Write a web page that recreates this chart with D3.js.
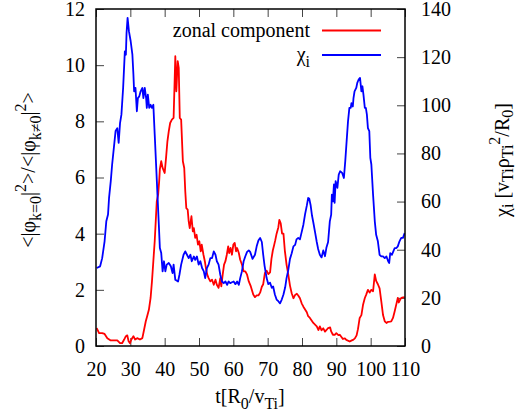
<!DOCTYPE html>
<html>
<head>
<meta charset="utf-8">
<script src="https://cdn.jsdelivr.net/npm/d3@7"></script>
<style>
  html, body { margin: 0; padding: 0; background: #fff; }
  svg { display: block; }
</style>
</head>
<body>
<svg id="chart" width="520" height="417"></svg>
<script>
// time axis ticks and axis ranges
const xTicks = [20, 30, 40, 50, 60, 70, 80, 90, 100, 110];
const yLeftTicks = [0, 2, 4, 6, 8, 10, 12];
const yRightTicks = [0, 20, 40, 60, 80, 100, 120, 140];

// zonal component ratio <|phi_k=0|^2>/<|phi_k!=0|^2> (left axis)
const tZonal = [20.2,20.9,21.8,22.5,23.3,24.3,25.2,26.2,27.0,27.6,28.2,28.7,29.1,29.5,29.9,30.3,30.9,31.4,32.0,32.8,33.5,34.0,34.5,34.9,35.4,35.9,36.3,36.7,37.1,37.4,37.7,38.1,38.4,38.6,39.0,39.4,40.0,40.4,40.8,41.2,41.6,42.1,42.6,43.1,43.4,43.8,44.1,44.4,44.8,45.3,45.7,46.0,46.3,46.7,47.0,47.3,47.8,48.2,48.5,48.9,49.3,49.7,50.1,50.5,50.8,51.3,51.7,52.0,52.4,52.8,53.3,53.8,54.3,54.8,55.2,55.7,56.2,56.5,56.9,57.3,57.7,58.1,58.5,58.8,59.2,59.6,60.0,60.4,60.8,61.1,61.6,62.0,62.5,63.0,63.5,64.0,64.5,65.1,65.8,66.3,66.8,67.3,67.8,68.3,68.7,69.2,69.7,70.2,70.7,71.1,71.5,71.9,72.2,72.6,73.1,73.4,73.8,74.2,74.6,75.0,75.5,76.0,76.5,77.0,77.5,78.0,78.5,78.9,79.4,79.9,80.4,81.4,81.8,82.3,83.3,84.3,84.8,85.2,85.7,86.2,86.7,87.2,87.6,88.2,88.5,89.0,89.6,90.0,90.6,91.0,91.6,91.9,92.5,92.9,93.9,94.5,94.9,95.4,95.9,96.3,96.8,97.3,97.8,98.3,98.7,99.2,99.7,100.2,100.7,101.2,101.6,102.1,102.6,103.1,103.6,104.1,104.6,105.1,105.6,106.0,106.5,107.0,107.5,107.9,108.2,108.7,109.1,109.9];
const zonal = [0.64,0.46,0.46,0.43,0.28,0.20,0.20,0.20,0.10,0.10,0.23,0.35,0.38,0.17,0.10,0.23,0.35,0.23,0.28,0.23,0.28,0.58,0.88,1.06,1.29,1.71,2.30,3.02,3.73,4.44,5.15,5.39,5.87,6.30,6.58,6.34,6.16,6.70,7.29,7.65,7.94,8.06,8.12,10.32,9.07,10.14,9.90,8.12,8.06,6.58,6.34,5.51,4.91,4.86,4.44,4.20,4.62,4.08,4.20,3.85,3.96,3.61,3.73,3.37,3.61,3.25,3.02,2.78,2.54,2.42,2.30,2.36,2.18,2.36,2.18,2.07,2.42,2.12,2.54,2.90,3.02,3.25,3.55,3.31,3.49,3.25,3.61,3.67,3.37,3.49,3.31,3.07,2.90,2.66,2.66,2.54,2.30,2.12,1.83,1.74,1.80,1.80,1.90,2.11,2.20,2.60,2.68,2.56,2.62,3.10,3.40,3.60,3.76,4.00,4.22,4.49,4.37,4.00,4.00,3.40,2.90,2.55,2.15,1.88,1.70,1.82,1.86,1.80,1.70,1.52,1.40,1.20,1.06,1.00,0.82,0.70,0.57,0.70,0.56,0.63,0.51,0.58,0.64,0.66,0.52,0.40,0.40,0.46,0.39,0.40,0.30,0.25,0.27,0.22,0.16,0.20,0.22,0.27,0.38,0.60,1.00,1.10,1.48,1.71,1.83,2.00,1.90,2.00,1.95,2.55,2.32,2.20,2.05,1.59,1.10,0.88,0.82,0.86,0.87,0.88,1.00,1.24,1.50,1.71,1.55,1.68,1.72,1.74];

// ion heat diffusivity chi_i in v_Ti rho_Ti^2 / R_0 (right axis)
const tChi = [20.2,21.2,21.8,22.5,23.0,23.5,23.8,24.3,24.7,25.2,25.7,26.2,26.6,27.0,27.4,27.9,28.4,28.7,28.9,29.2,29.6,30.1,30.6,30.9,31.1,31.5,31.9,32.2,32.6,33.0,33.5,33.8,34.2,34.6,34.8,35.1,35.5,35.9,36.3,36.7,37.1,37.5,37.9,38.3,38.6,39.0,39.4,39.8,40.2,40.6,41.2,41.8,42.3,42.6,43.1,43.9,44.3,44.8,45.5,46.0,46.5,47.0,47.5,47.9,48.5,48.9,49.4,49.9,50.4,50.9,51.4,51.8,52.3,52.8,53.3,53.8,54.3,54.8,55.2,55.7,56.2,56.7,57.2,57.7,58.2,58.6,59.1,59.6,60.1,60.6,61.1,61.6,62.0,62.5,63.0,63.5,64.0,64.5,64.9,65.6,66.3,66.8,67.3,67.8,68.3,68.7,69.1,69.7,70.2,70.7,71.2,71.6,72.1,72.6,73.1,73.6,74.1,74.6,75.1,75.5,76.0,76.5,77.0,77.5,78.0,78.4,78.9,79.4,79.9,80.4,80.9,81.4,81.8,82.1,82.5,82.9,83.3,83.8,84.3,84.7,85.2,85.7,86.2,86.7,87.1,87.6,88.1,88.5,88.7,89.0,89.3,89.5,89.8,90.3,90.7,91.1,91.7,92.2,92.6,93.0,93.4,93.8,94.2,94.4,94.8,95.0,95.3,95.8,96.1,96.5,96.9,97.3,97.6,97.9,98.3,98.6,98.9,99.2,99.6,99.9,100.2,100.7,101.2,101.6,102.1,102.6,103.1,103.6,104.1,104.6,105.1,105.4,105.7,106.2,106.6,107.0,107.5,107.9,108.4,108.9,109.4,109.9];
const chi = [32.4,33.1,36.5,43.5,51.8,54.6,61.5,68.5,75.4,82.3,89.3,90.5,84.4,92.6,96.1,107.2,122.4,121.0,130.1,136.3,130.7,126.6,121.0,112.7,105.8,107.2,97.5,103.0,103.7,105.8,107.2,103.0,107.2,103.0,98.9,104.4,98.9,100.2,98.9,100.2,87.9,75.4,62.9,50.4,40.7,38.6,31.0,35.2,31.0,33.8,34.5,33.1,30.3,33.8,27.5,26.8,29.6,33.8,37.9,39.3,37.9,36.5,37.9,35.2,37.2,35.8,37.2,33.8,35.2,32.4,31.0,28.2,32.4,33.8,36.5,36.5,39.3,37.9,35.2,33.8,29.6,26.8,26.1,26.8,25.4,26.8,26.1,26.5,26.8,25.7,26.8,25.4,28.2,31.0,35.2,37.3,39.1,39.7,39.1,36.2,37.9,41.4,43.8,44.9,43.2,37.9,33.3,28.2,25.7,26.3,24.2,24.7,21.4,19.3,18.6,17.7,19.3,21.4,24.4,28.2,31.5,36.2,38.5,41.4,42.0,44.3,44.9,44.3,47.3,50.4,54.8,58.3,61.5,61.3,58.6,54.3,51.3,47.3,43.2,40.3,37.9,36.8,39.7,37.3,40.8,43.2,51.8,54.6,62.9,60.1,67.1,59.5,68.5,65.7,71.2,72.6,71.9,69.8,76.8,85.1,93.3,98.9,98.9,100.9,99.5,103.0,105.8,107.2,109.3,110.7,111.4,105.8,107.9,104.4,98.9,98.9,96.1,90.5,89.3,78.2,75.4,62.9,51.8,46.2,43.5,37.9,37.2,37.2,36.5,37.2,35.2,34.5,38.6,37.9,39.3,40.7,40.7,41.4,43.5,44.9,44.9,46.9];

const svg = d3.select("#chart");
const plot = { left: 96, right: 405, top: 9, bottom: 346 };
const fontSize = 20;
const serif = "Liberation Serif";

const x = d3.scaleLinear().domain([20, 110]).range([plot.left, plot.right]);
const yL = d3.scaleLinear().domain([0, 12]).range([plot.bottom, plot.top]);
const yR = d3.scaleLinear().domain([0, 140]).range([plot.bottom, plot.top]);

function styleAxis(g) {
  g.attr("font-family", serif).attr("font-size", fontSize);
  g.select(".domain").remove();
  g.selectAll(".tick line").attr("stroke", "#444").attr("stroke-width", 1);
  g.selectAll(".tick text").attr("fill", "#000").attr("font-family", serif).attr("font-size", fontSize);
}

// inward ticks on all four sides; labels on bottom, left and right
svg.append("g").attr("transform", `translate(0,${plot.bottom})`)
  .call(d3.axisBottom(x).tickValues(xTicks).tickSize(-8).tickPadding(16).tickFormat(d3.format("d")))
  .call(styleAxis);
svg.append("g").attr("transform", `translate(0,${plot.top})`)
  .call(d3.axisTop(x).tickValues(xTicks).tickSize(-8).tickFormat(""))
  .call(styleAxis);
svg.append("g").attr("transform", `translate(${plot.left},0)`)
  .call(d3.axisLeft(yL).tickValues(yLeftTicks).tickSize(-8).tickPadding(11).tickFormat(d3.format("d")))
  .call(styleAxis);
svg.append("g").attr("transform", `translate(${plot.right},0)`)
  .call(d3.axisRight(yR).tickValues(yRightTicks).tickSize(-8).tickPadding(16).tickFormat(d3.format("d")))
  .call(styleAxis);

// data curves
const clipId = "plot-clip";
svg.append("clipPath").attr("id", clipId).append("rect")
  .attr("x", plot.left).attr("y", plot.top)
  .attr("width", plot.right - plot.left).attr("height", plot.bottom - plot.top);

const zonalLine = d3.line().x((d, i) => x(tZonal[i])).y(d => yL(d));
const chiLine = d3.line().x((d, i) => x(tChi[i])).y(d => yR(d));

svg.append("path").datum(zonal).attr("clip-path", `url(#${clipId})`)
  .attr("fill", "none").attr("stroke", "#ff0000").attr("stroke-width", 1.8)
  .attr("stroke-linejoin", "round").attr("d", zonalLine);
svg.append("path").datum(chi).attr("clip-path", `url(#${clipId})`)
  .attr("fill", "none").attr("stroke", "#0000ff").attr("stroke-width", 1.8)
  .attr("stroke-linejoin", "round").attr("d", chiLine);

// frame
svg.append("rect")
  .attr("x", plot.left).attr("y", plot.top)
  .attr("width", plot.right - plot.left).attr("height", plot.bottom - plot.top)
  .attr("fill", "none").attr("stroke", "#000").attr("stroke-width", 1.5);

// rich text with sub/superscripts: parts = [[text, "n"|"sub"|"sup"], ...]
function richText(sel, parts, size, subDrop) {
  const drop = subDrop === undefined ? 0.3 : subDrop;
  let shift = 0;
  sel.attr("font-family", serif).attr("font-size", size);
  parts.forEach(([t, kind]) => {
    const target = kind === "sub" ? drop * size : kind === "sup" ? -0.45 * size : 0;
    sel.append("tspan")
      .attr("dy", target - shift)
      .attr("font-family", serif)
      .attr("font-size", kind === "n" ? size : size * 0.8)
      .text(t);
    shift = target;
  });
}

// legend
const legend = [
  { parts: [["zonal component", "n"]], color: "#ff0000", y: 30.5, baseline: 37 },
  { parts: [["χ", "n"], ["i", "sub"]], color: "#0000ff", y: 55, baseline: 61 }
];
legend.forEach(e => {
  const t = svg.append("text").attr("x", 310).attr("y", e.baseline).attr("text-anchor", "end");
  richText(t, e.parts, fontSize);
  svg.append("line").attr("x1", 322).attr("x2", 381).attr("y1", e.y).attr("y2", e.y)
    .attr("stroke", e.color).attr("stroke-width", 1.8);
});

// x axis title
const xt = svg.append("text").attr("x", 250).attr("y", 403).attr("text-anchor", "middle");
richText(xt, [["t[R", "n"], ["0", "sub"], ["/v", "n"], ["Ti", "sub"], ["]", "n"]], fontSize);

// left axis title
const ylt = svg.append("text").attr("transform", "translate(35,170) rotate(-90)").attr("text-anchor", "middle");
richText(ylt, [["<|φ", "n"], ["k=0", "sub"], ["|", "n"], ["2", "sup"], [">/<|φ", "n"], ["k≠0", "sub"], ["|", "n"], ["2", "sup"], [">", "n"]], fontSize);

// right axis title
const yrt = svg.append("text").attr("transform", "translate(509,160) rotate(-90)").attr("text-anchor", "middle");
richText(yrt, [["χ", "n"], ["i", "sub"], [" [v", "n"], ["Ti", "sub"], ["ρ", "n"], ["Ti", "sub"], ["2", "sup"], ["/R", "n"], ["0", "sub"], ["]", "n"]], fontSize, 0.22);
</script>
</body>
</html>
